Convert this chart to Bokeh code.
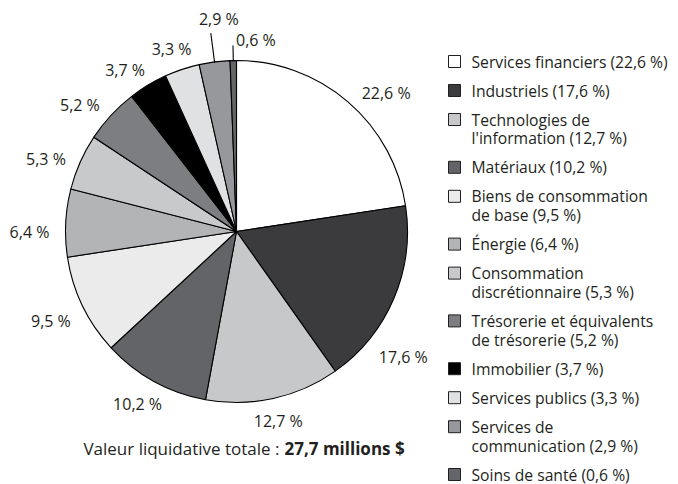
import math
from bokeh.plotting import figure
from bokeh.models import Range1d, ColumnDataSource
from bokeh.core.properties import value
from bokeh.embed import file_html
from bokeh.resources import INLINE

# ---- data ----
sectors = ["Services financiers", "Industriels", "Technologies de l'information", "Matériaux",
           "Biens de consommation de base", "Énergie", "Consommation discrétionnaire",
           "Trésorerie et équivalents de trésorerie", "Immobilier", "Services publics",
           "Services de communication", "Soins de santé"]
legend_lines = [["Services financiers (22,6 %)"], ["Industriels (17,6 %)"],
                ["Technologies de", "l'information (12,7 %)"], ["Matériaux (10,2 %)"],
                ["Biens de consommation", "de base (9,5 %)"], ["Énergie (6,4 %)"],
                ["Consommation", "discrétionnaire (5,3 %)"],
                ["Trésorerie et équivalents", "de trésorerie (5,2 %)"], ["Immobilier (3,7 %)"],
                ["Services publics (3,3 %)"], ["Services de", "communication (2,9 %)"],
                ["Soins de santé (0,6 %)"]]
shares = [22.6, 17.6, 12.7, 10.2, 9.5, 6.4, 5.3, 5.2, 3.7, 3.3, 2.9, 0.6]
colors = ["#ffffff", "#3b3b3d", "#c7c8ca", "#636467", "#ebebec", "#b3b4b6", "#c8c9cb",
          "#7d7e81", "#000000", "#e0e1e2", "#97989b", "#646568"]
title_normal = "Valeur liquidative totale :"
title_bold = "27,7 millions $"

# ---- layout (not data) ----
W, H = 678, 484
CX, CY, R = 236, 484 - 231, 171
label_shift_deg = [-6.5, -14, 0, -1, 0, 3, 3, 4, 3.5, 1, 0, 0]
label_r = [204, 209, 194, 199, 206, 207, 204, 201, 196, 194, 0, 0]
leader = {10: (170, 200), 11: (170, 186)}
TXT = "#231f20"
FONT = "Open Sans"
FS = "16px"
FS_L = "15.7px"
FS_T = "17px"

p = figure(width=W, height=H, x_range=Range1d(0, W), y_range=Range1d(0, H),
           output_backend="svg", toolbar_location=None, min_border=0)
p.axis.visible = False
p.grid.visible = False
p.outline_line_color = None

total = sum(shares)
starts, ends, mids = [], [], []
a = math.pi / 2
for s in shares:
    span = s / total * 2 * math.pi
    starts.append(a - span)
    ends.append(a)
    mids.append(a - span / 2)
    a -= span

src = ColumnDataSource(dict(start=starts, end=ends, color=colors))
p.wedge(x=CX, y=CY, radius=R, start_angle="start", end_angle="end", fill_color="color",
        line_color="black", line_width=1.1, source=src)

def fmt(v):
    return f"{v:.1f}".replace(".", ",") + " %"

for i, s in enumerate(shares):
    m = mids[i]
    if i in leader:
        r0, r1 = leader[i]
        x0, y0 = CX + r0 * math.cos(m), CY + r0 * math.sin(m)
        x1, y1 = CX + r1 * math.cos(m), CY + r1 * math.sin(m)
        p.line([x0, x1], [y0, y1], line_color="black", line_width=1.1)
        if i == 10:
            p.text([x1 + 8], [y1 + 3], text=[fmt(s)], text_align="center", text_baseline="bottom",
                   text_font=value(FONT), text_font_size=FS, text_color=TXT)
        else:
            p.text([x1 + 3], [y1 + 6], text=[fmt(s)], text_align="left", text_baseline="middle",
                   text_font=value(FONT), text_font_size=FS, text_color=TXT)
    else:
        ang = m + math.radians(label_shift_deg[i])
        lx, ly = CX + label_r[i] * math.cos(ang), CY + label_r[i] * math.sin(ang)
        p.text([lx], [ly], text=[fmt(s)], text_align="center", text_baseline="middle",
               text_font=value(FONT), text_font_size=FS, text_color=TXT)

# legend
y = 484 - 61
for i, lines in enumerate(legend_lines):
    p.rect([454], [y], width=12, height=12, fill_color=colors[i], line_color="#231f20",
           line_width=1, width_units="screen", height_units="screen")
    for k, t in enumerate(lines):
        p.text([471], [y - 18.8 * k], text=[t], text_align="left", text_baseline="middle",
               text_font=value(FONT), text_font_size=FS_L, text_color=TXT)
    y -= 29 + 18.8 * (len(lines) - 1)

# title
p.text([279], [484 - 448], text=[title_normal], text_align="right", text_baseline="middle",
       text_font=value(FONT), text_font_size=FS_T, text_color=TXT)
p.text([284], [484 - 448], text=[title_bold], text_align="left", text_baseline="middle",
       text_font=value(FONT), text_font_size=FS_T, text_font_style="bold", text_color=TXT)

open("out.html", "w").write(file_html(p, INLINE))
